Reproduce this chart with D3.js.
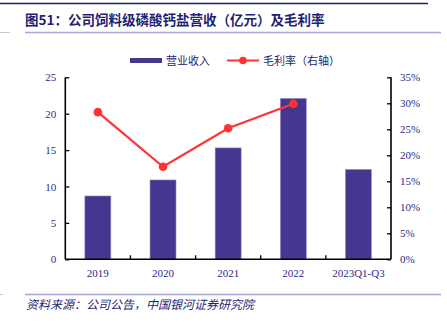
<!DOCTYPE html>
<html><head><meta charset="utf-8">
<script src="https://cdn.jsdelivr.net/npm/d3@7/dist/d3.min.js"></script>
<style>
body{margin:0;background:#fff;}
svg{display:block;}
</style></head>
<body>
<svg id="c" width="447" height="324"></svg>
<script>
const categories = ["2019","2020","2021","2022","2023Q1-Q3"];
const revenue = [8.7, 10.9, 15.3, 22.1, 12.35];
const grossMargin = [28.3, 17.8, 25.2, 29.9, null];
const leftTicks = [0,5,10,15,20,25];
const rightTicks = [0,5,10,15,20,25,30,35];
const titleText = "图51：公司饲料级磷酸钙盐营收（亿元）及毛利率";
const sourceText = "资料来源：公司公告，中国银河证券研究院";
const legendLabels = ["营业收入","毛利率（右轴）"];

const svg = d3.select("#c");
const navy = "#1f1f73";
const tickColor = "#2b2b8a";
const barColor = "#46368f";
const lineColor = "#ff3333";
const serif = "'Liberation Serif','Times New Roman',serif";
const cjk = "'Noto Sans CJK SC','Noto Sans',sans-serif";

// header / footer decorations
svg.append("line").attr("x1",0).attr("x2",428).attr("y1",3.5).attr("y2",3.5).attr("stroke","#1c1c70").attr("stroke-width",1.5);
svg.append("line").attr("x1",25).attr("x2",441).attr("y1",32.5).attr("y2",32.5).attr("stroke","#a9a6d6").attr("stroke-width",1.3);
svg.append("line").attr("x1",0).attr("x2",10).attr("y1",32.5).attr("y2",32.5).attr("stroke","#c8c8d8").attr("stroke-width",1);
svg.append("line").attr("x1",25).attr("x2",441).attr("y1",294.5).attr("y2",294.5).attr("stroke","#a9a6d6").attr("stroke-width",1.3);
svg.append("line").attr("x1",0).attr("x2",3).attr("y1",294.5).attr("y2",294.5).attr("stroke","#c8c8d8").attr("stroke-width",1);

svg.append("text").attr("x",25).attr("y",25).text(titleText)
  .attr("font-family",cjk).attr("font-weight","bold").attr("font-size",13.5).attr("fill",navy);
svg.append("text").attr("x",26).attr("y",309).text(sourceText)
  .attr("font-family",cjk).attr("font-style","italic").attr("font-size",12).attr("fill",navy)
  .attr("transform","skewX(0)");

const L = 65.3, R = 391, T = 77.3, B = 259.3;
const x = d3.scaleBand().domain(categories).range([L,R]).paddingInner(0.6).paddingOuter(0.3);
const xb = d3.scaleBand().domain(categories).range([L,R]);
const yL = d3.scaleLinear().domain([0,25]).range([B,T]);
const yR = d3.scaleLinear().domain([0,35]).range([B,T]);

// bars
svg.append("g").selectAll("rect").data(categories).join("rect")
  .attr("x",d=>xb(d)+xb.bandwidth()/2-13)
  .attr("width",26)
  .attr("y",(d,i)=>yL(revenue[i]))
  .attr("height",(d,i)=>B-yL(revenue[i]))
  .attr("fill",barColor).attr("stroke","#9d94cc").attr("stroke-width",0.6);

// axes
const axL = svg.append("g").attr("transform",`translate(${L},0)`)
  .call(d3.axisLeft(yL).tickValues(leftTicks).tickSize(-4).tickPadding(9));
const axR = svg.append("g").attr("transform",`translate(${R},0)`)
  .call(d3.axisRight(yR).tickValues(rightTicks).tickSize(-4).tickPadding(9).tickFormat(d=>d+"%"));
const axX = svg.append("g").attr("transform",`translate(0,${B})`)
  .call(d3.axisBottom(xb).tickSize(0).tickPadding(10));
// category boundary ticks
svg.append("g").selectAll("line").data(categories.slice(1)).join("line")
  .attr("x1",d=>xb(d)).attr("x2",d=>xb(d)).attr("y1",B).attr("y2",B-4)
  .attr("stroke","#000").attr("stroke-width",1.3);

[axL,axR,axX].forEach(g=>{
  g.select(".domain").attr("stroke","#000").attr("stroke-width",1.6);
  g.selectAll(".tick line").attr("stroke","#000").attr("stroke-width",1.3);
  g.selectAll(".tick text").attr("font-family",serif).attr("font-size",11).attr("fill",tickColor);
});
axX.select(".domain").attr("d",`M${L},0H${R}`);
axL.select(".domain").attr("d",`M0,${T}V${B}`);
axR.select(".domain").attr("d",`M0,${T}V${B}`);

// line
const pts = categories.map((c,i)=>({c,v:grossMargin[i]})).filter(d=>d.v!=null);
svg.append("path").datum(pts)
  .attr("d",d3.line().x(d=>xb(d.c)+xb.bandwidth()/2).y(d=>yR(d.v)))
  .attr("fill","none").attr("stroke",lineColor).attr("stroke-width",2.2);
svg.append("g").selectAll("circle").data(pts).join("circle")
  .attr("cx",d=>xb(d.c)+xb.bandwidth()/2).attr("cy",d=>yR(d.v)).attr("r",4.3).attr("fill",lineColor);

// legend
const lg = svg.append("g");
lg.append("rect").attr("x",130).attr("y",58).attr("width",32).attr("height",5).attr("fill",barColor);
lg.append("text").attr("x",166).attr("y",65).text(legendLabels[0])
  .attr("font-family",cjk).attr("font-size",11).attr("fill",navy);
lg.append("line").attr("x1",227).attr("x2",259).attr("y1",60.5).attr("y2",60.5).attr("stroke",lineColor).attr("stroke-width",2);
lg.append("circle").attr("cx",243).attr("cy",60.5).attr("r",3.8).attr("fill",lineColor);
lg.append("text").attr("x",263).attr("y",65).text(legendLabels[1])
  .attr("font-family",cjk).attr("font-size",11).attr("fill",navy);
</script>
</body></html>
